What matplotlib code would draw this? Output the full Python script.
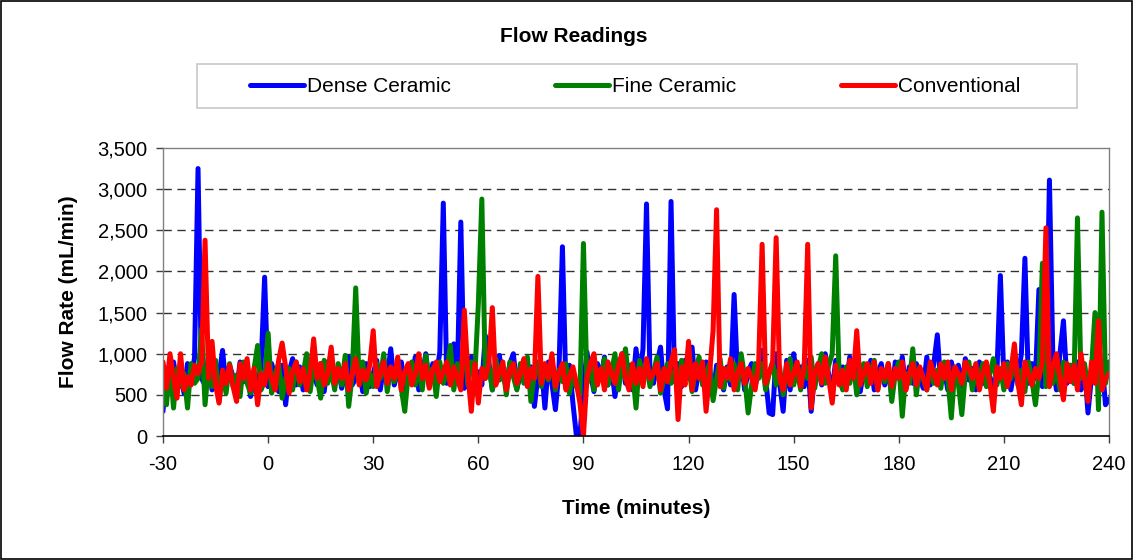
import numpy as np
import matplotlib
matplotlib.use("Agg")
import matplotlib.pyplot as plt
from matplotlib.patches import Rectangle
from matplotlib.ticker import FuncFormatter

plt.rcParams["font.family"] = ["Liberation Sans", "DejaVu Sans"]
plt.rcParams["axes.unicode_minus"] = False

# Time axis: one reading per minute
t_start, t_end = -30, 240
minutes = np.arange(t_start, t_end + 1)

x_ticks = [-30, 0, 30, 60, 90, 120, 150, 180, 210, 240]
y_ticks = [0, 500, 1000, 1500, 2000, 2500, 3000, 3500]

series_names = ["Dense Ceramic", "Fine Ceramic", "Conventional"]
series_colors = ["#0000FF", "#008000", "#FF0000"]

# Flow rate (mL/min), one row per 10 minutes
dense_ceramic = [
    300, 820, 560, 900, 640, 780, 520, 880, 700, 950,      # -30
    3250, 700, 620, 980, 560, 820, 740, 1040, 600, 860,    # -20
    720, 540, 900, 660, 800, 480, 760, 620, 860, 1930,     # -10
    600, 880, 720, 540, 860, 380, 780, 940, 620, 840,      # 0
    560, 980, 700, 760, 620, 880, 540, 900, 720, 640,      # 10
    840, 580, 760, 960, 620, 700, 820, 540, 880, 600,      # 20
    760, 920, 560, 840, 700, 1060, 620, 780, 900, 580,     # 30
    820, 680, 960, 560, 740, 1000, 600, 880, 720, 1020,    # 40
    2830, 640, 860, 1120, 700, 2600, 580, 820, 960, 680,   # 50
    780, 620, 1220, 900, 560, 760, 980, 700, 620, 880,     # 60
    1000, 580, 740, 920, 660, 840, 360, 720, 860, 340,     # 70
    900, 640, 320, 780, 2300, 580, 860, 400, 0, 0,         # 80
    600, 1020, 760, 540, 880, 700, 960, 620, 840, 480,     # 90
    780, 1000, 640, 860, 560, 1060, 700, 1060, 2820, 720,  # 100
    640, 880, 1080, 560, 330, 2850, 660, 880, 600, 920,    # 110
    700, 1080, 560, 820, 660, 900, 740, 480, 860, 700,     # 120
    560, 840, 620, 1720, 700, 960, 560, 780, 880, 600,     # 130
    820, 1040, 700, 280, 260, 1000, 640, 300, 920, 560,    # 140
    1000, 700, 840, 600, 920, 300, 760, 880, 620, 1000,    # 150
    740, 560, 920, 680, 840, 600, 960, 720, 880, 540,      # 160
    800, 660, 920, 560, 760, 880, 620, 820, 500, 900,      # 170
    700, 960, 560, 840, 640, 880, 720, 580, 960, 620,      # 180
    880, 1230, 640, 800, 560, 900, 720, 860, 600, 940,     # 190
    680, 820, 560, 900, 640, 860, 720, 580, 760, 1950,     # 200
    680, 900, 560, 820, 720, 1000, 2160, 640, 880, 700,    # 210
    1780, 600, 760, 3110, 900, 560, 1000, 1400, 640, 860,  # 220
    640, 900, 560, 860, 280, 720, 820, 640, 900, 380, 450, # 230-240
]

fine_ceramic = [
    720, 380, 900, 340, 820, 600, 760, 340, 880, 640,      # -30
    700, 1300, 380, 860, 600, 920, 420, 760, 520, 880,     # -20
    600, 740, 480, 900, 640, 520, 820, 1100, 560, 680,     # -10
    1250, 520, 760, 880, 460, 700, 820, 560, 900, 620,     # 0
    760, 1000, 540, 860, 700, 460, 920, 640, 800, 560,     # 10
    880, 620, 980, 360, 740, 1800, 640, 900, 520, 760,     # 20
    600, 880, 700, 1000, 540, 820, 660, 900, 580, 300,     # 30
    760, 900, 620, 840, 560, 980, 700, 820, 480, 900,      # 40
    640, 760, 1100, 560, 880, 700, 1160, 620, 900, 740,    # 50
    1600, 2880, 700, 860, 560, 940, 680, 820, 500, 900,    # 60
    720, 560, 880, 640, 960, 420, 760, 900, 600, 820,      # 70
    680, 940, 560, 800, 660, 880, 520, 760, 600, 500,      # 80
    2340, 640, 880, 560, 800, 700, 940, 620, 780, 1000,    # 90
    560, 860, 1060, 640, 800, 340, 920, 700, 860, 600,     # 100
    780, 960, 520, 700, 880, 640, 800, 560, 920, 700,      # 110
    860, 540, 800, 960, 620, 760, 880, 430, 700, 940,      # 120
    580, 820, 680, 880, 560, 1000, 720, 280, 620, 880,     # 130
    700, 880, 560, 760, 900, 620, 840, 500, 780, 940,      # 140
    620, 800, 560, 880, 700, 960, 580, 820, 1000, 640,     # 150
    860, 1000, 2190, 700, 560, 840, 640, 900, 500, 760,    # 160
    880, 600, 780, 920, 560, 800, 660, 880, 420, 760,      # 170
    900, 240, 760, 640, 1060, 500, 820, 700, 560, 880,     # 180
    640, 800, 580, 900, 700, 220, 820, 640, 260, 760,      # 190
    900, 560, 800, 680, 880, 600, 760, 940, 620, 820,      # 200
    560, 880, 700, 960, 620, 800, 540, 900, 680, 380,      # 210
    760, 2100, 600, 880, 640, 820, 560, 900, 700, 860,     # 220
    640, 2650, 700, 880, 560, 820, 1500, 320, 2720, 640, 900,  # 230-240
]

conventional = [
    900, 580, 1000, 700, 460, 1000, 560, 720, 620, 860,    # -30
    760, 900, 2380, 700, 1150, 620, 400, 800, 640, 860,    # -20
    600, 420, 880, 700, 940, 560, 820, 380, 760, 620,      # -10
    880, 700, 560, 920, 1130, 840, 520, 780, 900, 660,     # 0
    820, 560, 760, 1180, 700, 880, 620, 760, 1080, 640,    # 10
    820, 700, 880, 560, 760, 940, 620, 800, 680, 860,      # 20
    1280, 600, 760, 900, 640, 840, 700, 960, 560, 780,     # 30
    880, 620, 760, 1000, 700, 860, 580, 800, 900, 660,     # 40
    780, 900, 620, 840, 700, 560, 1530, 760, 300, 880,     # 50
    400, 820, 700, 880, 1560, 620, 760, 900, 560, 800,     # 60
    880, 640, 760, 940, 600, 820, 700, 1940, 640, 880,     # 70
    700, 1000, 600, 760, 880, 560, 720, 840, 640, 400,     # 80
    0, 700, 880, 1000, 620, 820, 560, 900, 760, 640,       # 90
    860, 1000, 700, 560, 880, 640, 820, 600, 940, 700,     # 100
    760, 880, 560, 820, 660, 900, 1050, 200, 840, 620,     # 110
    1150, 560, 880, 700, 900, 300, 760, 1280, 2750, 600,   # 120
    820, 700, 940, 560, 760, 880, 640, 820, 700, 560,      # 130
    880, 2330, 640, 760, 900, 2410, 700, 560, 880, 620,    # 140
    760, 900, 600, 820, 2330, 340, 760, 880, 640, 960,     # 150
    700, 400, 860, 620, 800, 560, 920, 700, 1280, 620,     # 160
    760, 880, 640, 900, 560, 820, 700, 880, 600, 820,      # 170
    700, 900, 560, 760, 880, 620, 840, 700, 560, 900,      # 180
    760, 620, 880, 700, 900, 560, 840, 760, 640, 900,      # 190
    820, 700, 880, 560, 760, 900, 640, 300, 840, 700,      # 200
    880, 600, 780, 1120, 640, 380, 900, 760, 620, 820,     # 210
    700, 900, 2530, 600, 840, 1000, 700, 440, 880, 660,    # 220
    860, 560, 1000, 700, 420, 900, 640, 1400, 560, 700, 760,  # 230-240
]

W, H = 1134, 560
fig = plt.figure(figsize=(W / 100, H / 100), dpi=100)
fig.patch.set_facecolor("white")

# plot area in pixel coordinates
left, right, top, bottom = 163, 1109, 148, 436
ax = fig.add_axes([left / W, 1 - bottom / H, (right - left) / W, (bottom - top) / H])

for vals, name, color in zip([dense_ceramic, fine_ceramic, conventional], series_names, series_colors):
    ax.plot(minutes, vals, color=color, lw=3.6, label=name,
            solid_joinstyle="round", solid_capstyle="round", clip_on=True)

ax.set_xlim(t_start, t_end)
ax.set_ylim(0, 3500)
ax.set_xticks(x_ticks)
ax.set_yticks(y_ticks)
ax.yaxis.set_major_formatter(FuncFormatter(lambda v, p: f"{int(v):,}"))

for y in y_ticks[1:-1]:
    ax.axhline(y, color="#333333", lw=1.0, ls=(0, (6, 4)), zorder=0.5)

for side in ["top", "right", "left"]:
    ax.spines[side].set_color("#808080")
    ax.spines[side].set_linewidth(1.0)
ax.spines["bottom"].set_color("#000000")
ax.spines["bottom"].set_linewidth(1.2)

ax.tick_params(axis="both", direction="out", length=5, width=1, color="#404040",
               labelsize=14.5, pad=6)
ax.tick_params(axis="x", pad=9)

ax.set_xlabel("Time (minutes)", fontsize=15, fontweight="bold", labelpad=18)
ax.set_ylabel("Flow Rate (mL/min)", fontsize=15, fontweight="bold", labelpad=14)

fig.text(574 / W, 1 - 37 / H, "Flow Readings", ha="center", va="center",
         fontsize=15, fontweight="bold")

# legend box
fig.patches.append(Rectangle((197 / W, 1 - 108 / H), 880 / W, 44 / H,
                             transform=fig.transFigure, fill=False,
                             edgecolor="#c8c8c8", lw=1.2))
fig.legend(loc="center", bbox_to_anchor=(635 / W, 1 - 87 / H), ncol=3,
           frameon=False, fontsize=15, handlelength=2.6, handletextpad=0.15,
           columnspacing=5.0)

# outer border
fig.patches.append(Rectangle((0.0005, 0.001), 0.998, 0.998, transform=fig.transFigure,
                             fill=False, edgecolor="#000000", lw=1.2))

fig.savefig("out.png", dpi=100)
